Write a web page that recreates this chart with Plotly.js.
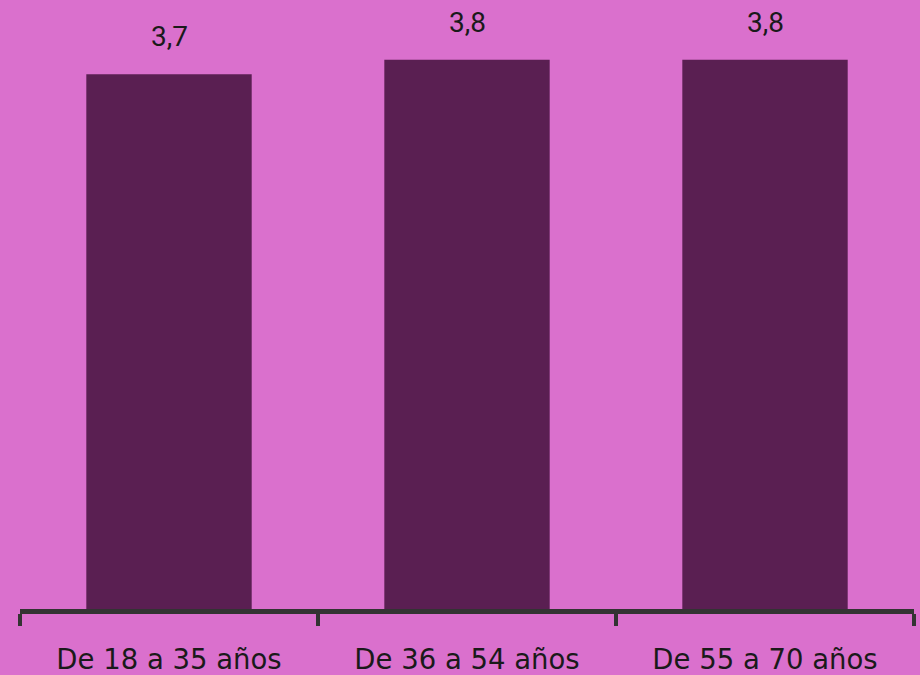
<!DOCTYPE html>
<html>
<head>
<meta charset="utf-8">
<script src="https://cdn.plot.ly/plotly-3.0.1.min.js"></script>
<style>html,body{margin:0;padding:0;background:#DA70CD;}#chart{width:920px;height:675px;}</style>
</head>
<body>
<div id="chart"></div>
<script>
var categories = ["De 18 a 35 años", "De 36 a 54 años", "De 55 a 70 años"];
var values = [3.7, 3.8, 3.8];
var valueLabels = ["3,7", "3,8", "3,8"];

var bg = "#DA70CD";
var barColor = "#5A1F52";

var trace = {
  type: "bar",
  x: categories,
  y: values,
  marker: {color: barColor},
  hoverinfo: "none"
};

var annotations = categories.map(function (c, i) {
  return {
    x: c, y: values[i], xref: "x", yref: "y",
    text: valueLabels[i], showarrow: false,
    yanchor: "bottom", yshift: 19,
    font: {family: "Roboto, Arial, sans-serif", size: 28, color: "#1a1a1a"}
  };
});

var layout = {
  width: 920, height: 675,
  paper_bgcolor: bg, plot_bgcolor: bg,
  margin: {l: 20, r: 6, t: 2, b: 66},
  bargap: 0.445,
  showlegend: false,
  xaxis: {
    showline: true, linecolor: "#333333", linewidth: 5,
    ticks: "outside", ticklen: 12, tickwidth: 4, tickcolor: "#333333",
    tickson: "boundaries",
    ticklabelstandoff: 22,
    tickfont: {family: "'DejaVu Sans', sans-serif", size: 27.5, color: "#1a1a1a"},
    showgrid: false, zeroline: false, fixedrange: true
  },
  yaxis: {
    range: [0, 4.2], visible: false, showgrid: false, zeroline: false, fixedrange: true
  },
  annotations: annotations
};

Plotly.newPlot("chart", [trace], layout, {displayModeBar: false, staticPlot: true});
</script>
</body>
</html>
